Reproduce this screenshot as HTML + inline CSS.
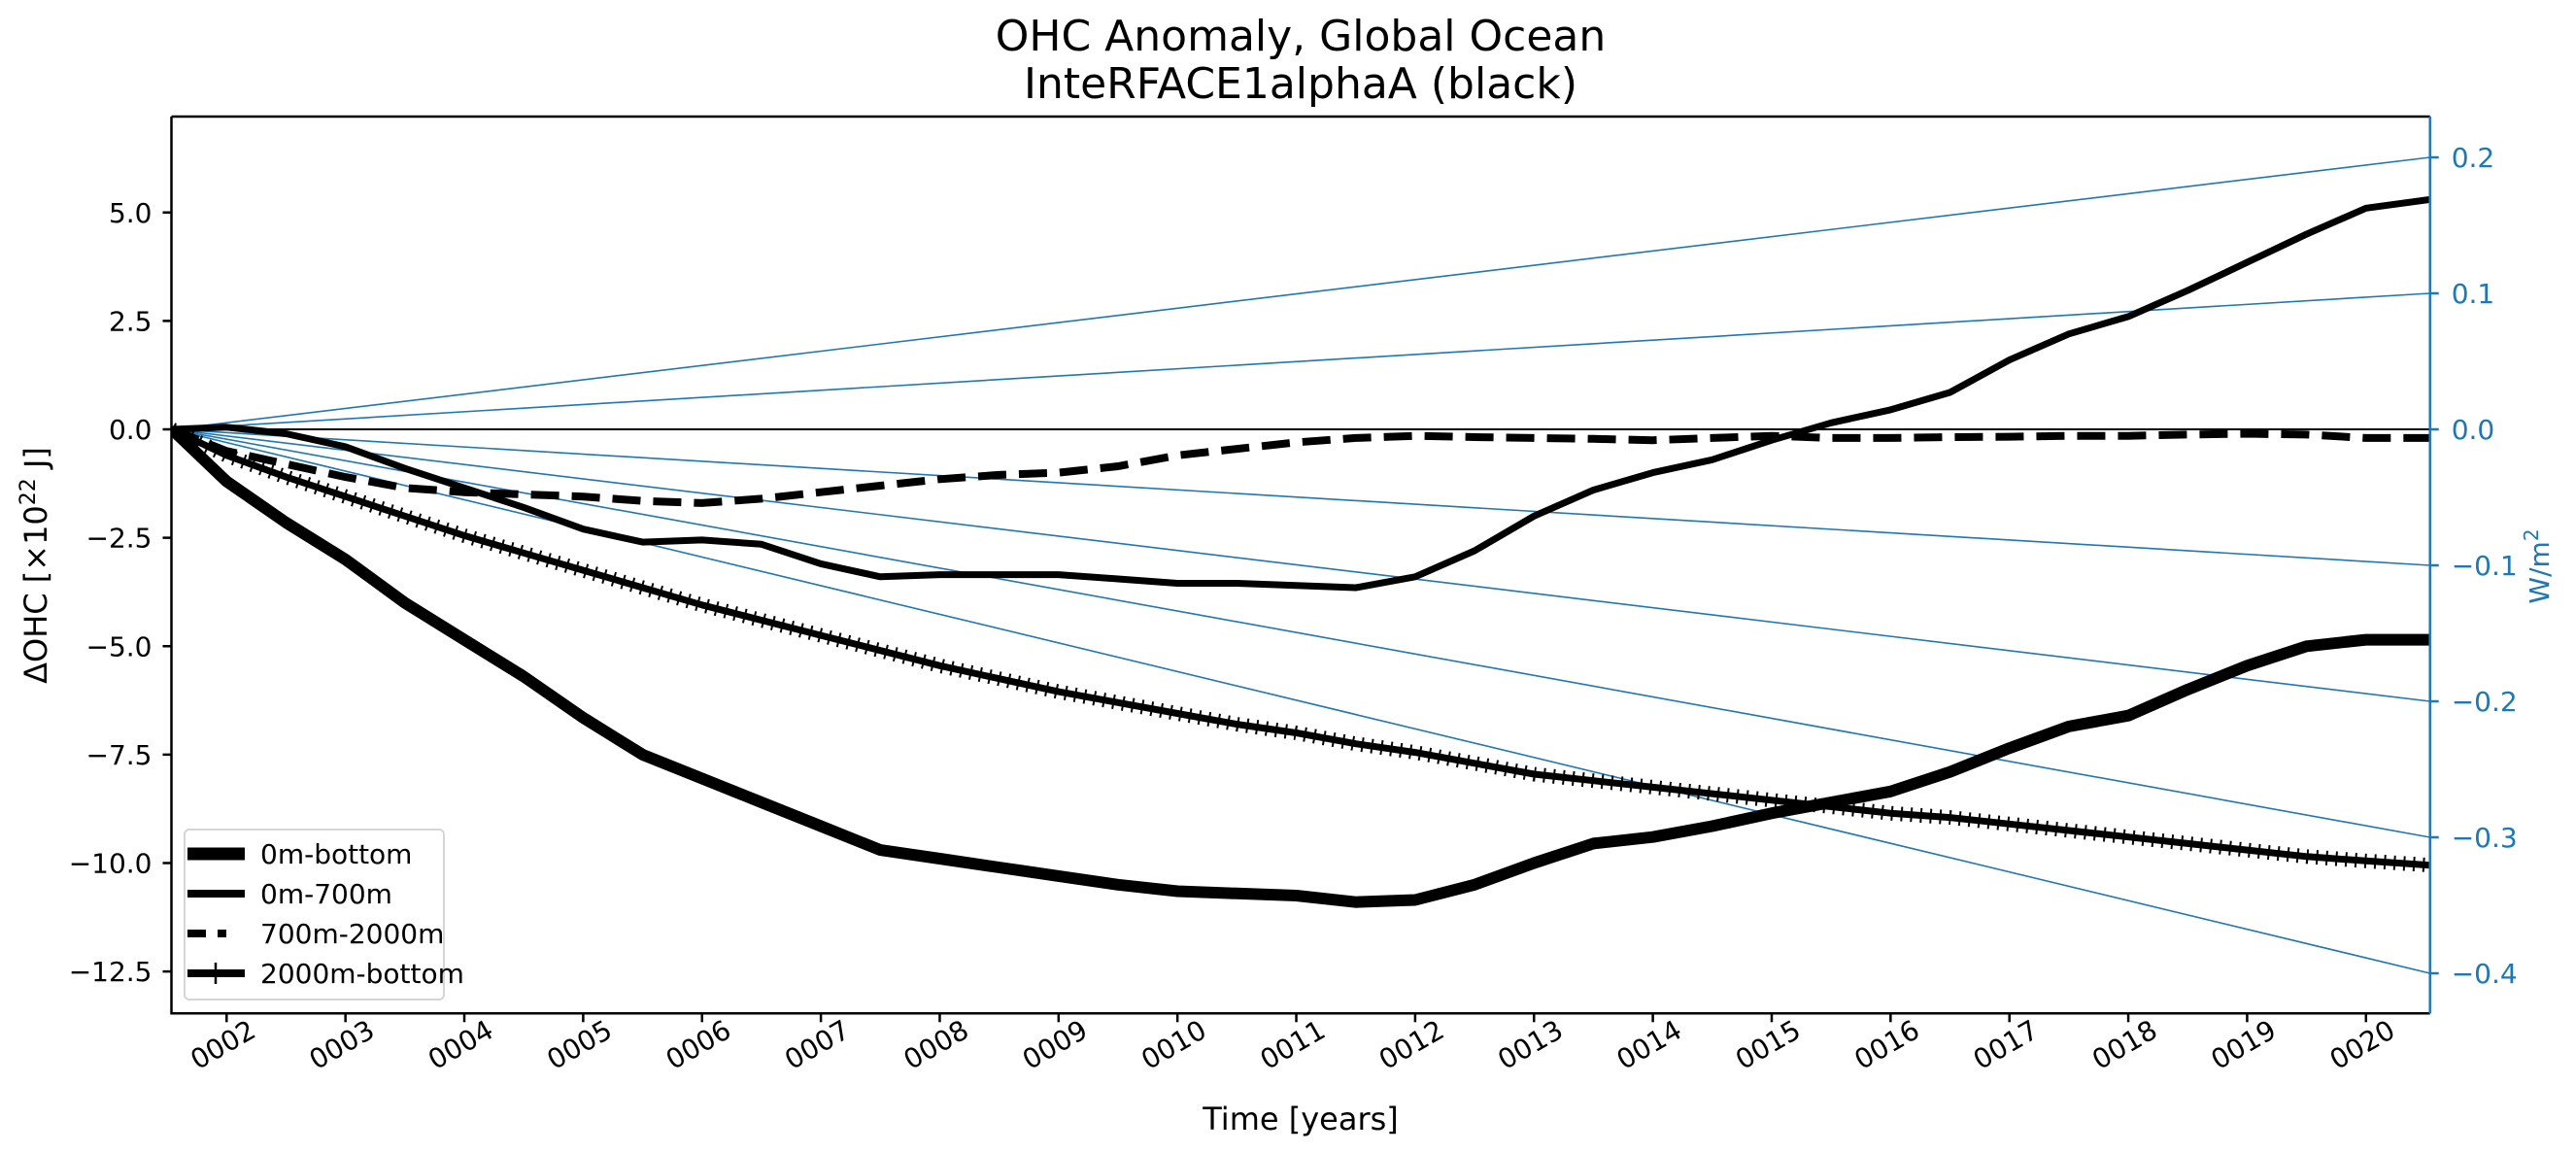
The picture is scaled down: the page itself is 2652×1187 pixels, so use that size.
<!DOCTYPE html>
<html><head><meta charset="utf-8">
<style>
html,body{margin:0;padding:0;background:#fff;}
svg{display:block;font-family:"DejaVu Sans","Liberation Sans",sans-serif;}
</style></head>
<body>
<svg id="chart" width="2652" height="1187" viewBox="0 0 2652 1187" xmlns="http://www.w3.org/2000/svg">
<rect width="2652" height="1187" fill="#fff"/>
<text x="1339" y="52" font-size="44" text-anchor="middle">OHC Anomaly, Global Ocean</text>
<text x="1339" y="101" font-size="44" text-anchor="middle">InteRFACE1alphaA (black)</text>
<g id="plot"></g>
<text x="1339" y="1163" font-size="32" text-anchor="middle">Time [years]</text>
<text transform="translate(48,582) rotate(-90)" font-size="32" text-anchor="middle">ΔOHC [×10<tspan font-size="22" dy="-12">22</tspan><tspan dy="12"> J]</tspan></text>
<text transform="translate(2624,583) rotate(-90)" font-size="28" fill="#1f77b4" text-anchor="middle">W/m<tspan font-size="20" dy="-11">2</tspan></text>
</svg>
<script>
const years = [1.54,2.0,2.5,3.0,3.5,4.0,4.5,5.0,5.5,6.0,6.5,7.0,7.5,8.0,8.5,9.0,9.5,10.0,10.5,11.0,11.5,12.0,12.5,13.0,13.5,14.0,14.5,15.0,15.5,16.0,16.5,17.0,17.5,18.0,18.5,19.0,19.5,20.0,20.54];
const ohcTotal = [0,-1.2,-2.15,-3.0,-4.0,-4.85,-5.7,-6.65,-7.5,-8.05,-8.6,-9.15,-9.7,-9.9,-10.1,-10.3,-10.5,-10.65,-10.7,-10.75,-10.9,-10.85,-10.5,-10.0,-9.55,-9.4,-9.15,-8.85,-8.6,-8.35,-7.9,-7.35,-6.85,-6.6,-6.0,-5.45,-5.0,-4.85,-4.85];
const ohc0700 = [0,0.05,-0.1,-0.4,-0.9,-1.35,-1.8,-2.3,-2.6,-2.55,-2.65,-3.1,-3.4,-3.35,-3.35,-3.35,-3.45,-3.55,-3.55,-3.6,-3.65,-3.4,-2.8,-2.0,-1.4,-1.0,-0.7,-0.25,0.15,0.45,0.85,1.6,2.2,2.6,3.2,3.85,4.5,5.1,5.3];
const ohc7002000 = [0,-0.5,-0.8,-1.1,-1.35,-1.45,-1.5,-1.55,-1.65,-1.7,-1.6,-1.45,-1.3,-1.15,-1.05,-1.0,-0.85,-0.6,-0.45,-0.3,-0.2,-0.15,-0.18,-0.2,-0.22,-0.25,-0.2,-0.15,-0.2,-0.2,-0.18,-0.17,-0.15,-0.15,-0.12,-0.1,-0.12,-0.2,-0.2];
const ohc2000bot = [0,-0.6,-1.1,-1.55,-2.0,-2.45,-2.85,-3.25,-3.65,-4.05,-4.4,-4.75,-5.1,-5.45,-5.75,-6.05,-6.3,-6.55,-6.8,-7.0,-7.25,-7.45,-7.7,-7.95,-8.1,-8.25,-8.4,-8.55,-8.7,-8.85,-8.95,-9.1,-9.25,-9.4,-9.55,-9.7,-9.85,-9.95,-10.05];
const rateLines = [0.2,0.1,-0.1,-0.2,-0.3,-0.4];
const leftTicks = [5.0,2.5,0.0,-2.5,-5.0,-7.5,-10.0,-12.5];
const rightTicks = [0.2,0.1,0.0,-0.1,-0.2,-0.3,-0.4];
const xTickYears = [2,3,4,5,6,7,8,9,10,11,12,13,14,15,16,17,18,19,20];

const L=176.5,R=2501.7,T=120,B=1043.3;
const xS = y => 233.3 + (y-2)*122.36;
const yS = v => 442 - v*44.65;
const yR = v => 442 - v*1400;
const NS="http://www.w3.org/2000/svg";
const g=document.getElementById('plot');
function mk(tag,attrs,parent){const e=document.createElementNS(NS,tag);for(const k in attrs)e.setAttribute(k,attrs[k]);(parent||g).appendChild(e);return e;}
const defs=mk('defs',{});
const cp=mk('clipPath',{id:'clip'},defs);mk('rect',{x:L,y:T,width:R-L,height:B-T},cp);
const area=mk('g',{'clip-path':'url(#clip)'});



const z=mk('line',{x1:L,x2:R,y1:yS(0),y2:yS(0),stroke:'#000','stroke-width':2},area);


rateLines.forEach(r=>{
  const l=mk('line',{x1:xS(years[0]),y1:yR(0),x2:R,y2:yR(r),stroke:'#1f77b4','stroke-width':1.6},area);
  
  
});
function pathD(arr){return arr.map((v,i)=>(i?'L':'M')+xS(years[i]).toFixed(1)+','+yS(v).toFixed(1)).join(' ');}
const p1=mk('path',{d:pathD(ohcTotal),fill:'none',stroke:'#000','stroke-width':12,'stroke-linejoin':'round'},area);


const p2=mk('path',{d:pathD(ohc0700),fill:'none',stroke:'#000','stroke-width':7,'stroke-linejoin':'round'},area);


const p3=mk('path',{d:pathD(ohc7002000),fill:'none',stroke:'#000','stroke-width':8,'stroke-dasharray':'29 13'},area);


const p4=mk('path',{d:pathD(ohc2000bot),fill:'none',stroke:'#000','stroke-width':7,'stroke-linejoin':'round'},area);


const p4m=mk('path',{d:pathD(ohc2000bot),fill:'none',stroke:'#000','stroke-width':15,'stroke-dasharray':'2 8'},area);



const sp=mk('path',{d:`M${L},${T} H${R} M${L},${T} V${B} H${R}`,fill:'none',stroke:'#000','stroke-width':2.5});


const rs=mk('line',{x1:R,x2:R,y1:T,y2:B,stroke:'#1f77b4','stroke-width':2.5});



leftTicks.forEach(v=>{
  const y=yS(v);
  const t=mk('line',{x1:L-9,x2:L,y1:y,y2:y,stroke:'#000','stroke-width':2.5});
  
  
  const tx=mk('text',{x:L-20,y:y+10,'font-size':28,'text-anchor':'end'});
  tx.textContent=(v<0?'\u2212':'')+Math.abs(v).toFixed(1);
  
  
});
rightTicks.forEach(v=>{
  const y=yR(v);
  const t=mk('line',{x1:R,x2:R+9,y1:y,y2:y,stroke:'#1f77b4','stroke-width':2.5});
  
  
  const tx=mk('text',{x:R+22,y:y+10,'font-size':28,fill:'#1f77b4'});
  tx.textContent=(v<0?'\u2212':'')+Math.abs(v).toFixed(1);
  
  
});
xTickYears.forEach(yr=>{
  const x=xS(yr);
  const t=mk('line',{x1:x,x2:x,y1:B,y2:B+9,stroke:'#000','stroke-width':2.5});
  
  
  const tx=mk('text',{transform:`translate(${x-4},${B+32}) rotate(-30)`,y:10,'font-size':28,'text-anchor':'middle'});
  tx.textContent=String(yr).padStart(4,'0');
  
  
});

const lg=mk('g',{});


mk('rect',{x:190,y:854,width:267,height:175,rx:5,fill:'#fff','fill-opacity':0.85,stroke:'#d5d5d5','stroke-width':2},lg);
const entries=[['0m-bottom',{'stroke-width':13}],['0m-700m',{'stroke-width':8}],['700m-2000m',{'stroke-width':8,'stroke-dasharray':'19 12 9 50'}],['2000m-bottom',{'stroke-width':8}]];
entries.forEach((e,i)=>{
  const y=879+i*41;
  const ge=mk('g',{},lg);
  
  
  mk('line',Object.assign({x1:193,x2:252,y1:y,y2:y,stroke:'#000'},e[1]),ge);
  if(i===3) mk('line',{x1:222,x2:222,y1:y-11,y2:y+11,stroke:'#000','stroke-width':2.5},ge);
  const t=mk('text',{x:268,y:y+10,'font-size':28},ge);
  t.textContent=e[0];
});
</script>
</body></html>
